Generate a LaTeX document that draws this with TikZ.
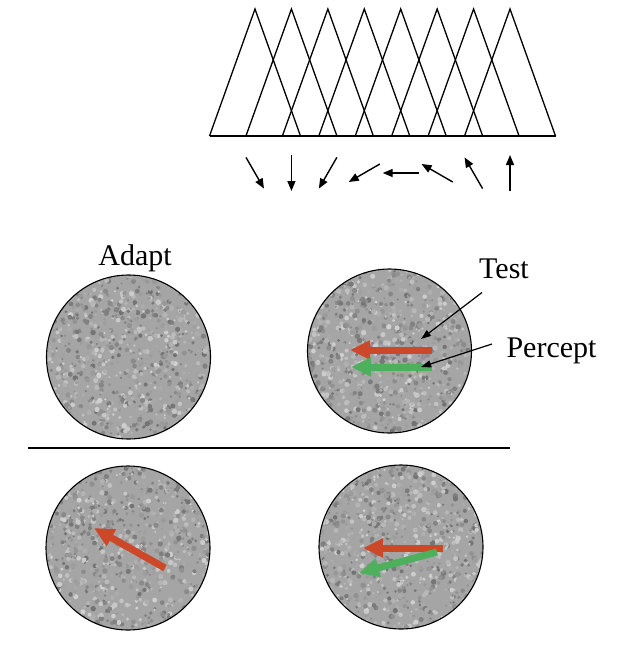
\documentclass[tikz,border=0pt]{standalone}
\usepackage{fontspec}
\setmainfont{Liberation Serif}
\definecolor{testred}{RGB}{204, 72, 40}
\definecolor{perceptgreen}{RGB}{78, 176, 92}
\definecolor{noisegray}{RGB}{165, 165, 165}
\colorlet{noisedark}{black!75}
\usetikzlibrary{arrows.meta, calc}
\tikzset{
	tuning/.style={line width=1.3pt, line join=miter},
	dirarrow/.style={-{Triangle[length=10pt, width=8pt]}, line width=1.4pt},
	patch/.style={draw=black, line width=1.1pt},
	pointer/.style={-{Triangle[length=10pt, width=7pt]}, line width=1.2pt},
	testarrow/.style={-{Triangle[length=20pt, width=18pt]}, line width=7pt, draw=testred},
	perceptarrow/.style={-{Triangle[length=20pt, width=18pt]}, line width=7pt, draw=perceptgreen},
	divider/.style={line width=1.2pt},
	label/.style={font=\fontsize{30}{36}\selectfont, inner sep=0pt},
}
\newcommand{\noisepatch}[2]{%
	\begin{scope}
		\clip (#1) circle[radius=82pt];
		\fill[noisegray] (#1) circle[radius=82pt];
		\pgfmathsetseed{#2}
		\foreach \k in {1,...,1100}{
			\pgfmathsetmacro\px{rnd*168-84}
			\pgfmathsetmacro\py{rnd*168-84}
			\pgfmathtruncatemacro\sh{rnd*100}
			\pgfmathsetmacro\rr{1+rnd*1.8}
			\fill[white!\sh!noisedark!50!noisegray] ($(#1)+(\px,\py)$) circle[radius=\rr pt];
		}
	\end{scope}
	\draw[patch] (#1) circle[radius=82pt];
}

\begin{document}
\begin{tikzpicture}[x=1pt, y=-1pt]
		\useasboundingbox (0,0) rectangle (632,664);
		% tuning curves and preferred directions
		\foreach \i in {0,...,7}{
			\coordinate (apex\i) at ({255+36.43*\i}, 9);
			\draw[tuning] ($(apex\i)+(-45.5,127)$) -- (apex\i) -- ($(apex\i)+(45.5,127)$);
			\coordinate (dir\i) at ({255+36.43*\i}, 173);
			\draw[dirarrow] ($(dir\i)+({60+30*\i+180}:18)$) -- ($(dir\i)+({60+30*\i}:18)$);
		}
		\draw[tuning] (210,136) -- (556,136);
		% stimulus patches
		\coordinate (adaptTop) at (128.5,357);
		\coordinate (testTop) at (389.5,351);
		\coordinate (adaptBot) at (128,548);
		\coordinate (testBot) at (401,547);
		\noisepatch{adaptTop}{11}
		\noisepatch{testTop}{23}
		\noisepatch{adaptBot}{37}
		\noisepatch{testBot}{51}
		\draw[divider] (28,448) -- (510,448);
		\node[label, anchor=base] (adapt) at (135,265) {Adapt};
		\node[label, anchor=base] (test) at (504,278) {Test};
		\node[label, anchor=base] (percept) at (551.5,357) {Percept};
		% motion arrows
		\draw[testarrow] (432,350) -- (350,350);
		\draw[perceptarrow] (432,367) -- (351,367);
		\draw[testarrow] (165,568) -- (94,528);
		\draw[testarrow] (443,548) -- (363,548);
		\draw[perceptarrow] (437,552) -- (359,573);
		% pointers
		\coordinate (testtail) at ($(test.south west)+(3,14)$);
		\coordinate (testhead) at (421,339);
		\coordinate (percepttail) at (492,344);
		\coordinate (percepthead) at (421,367);
		\draw[pointer] (testtail) -- (testhead);
		\draw[pointer] (percepttail) -- (percepthead);
	\end{tikzpicture}
\end{document}
